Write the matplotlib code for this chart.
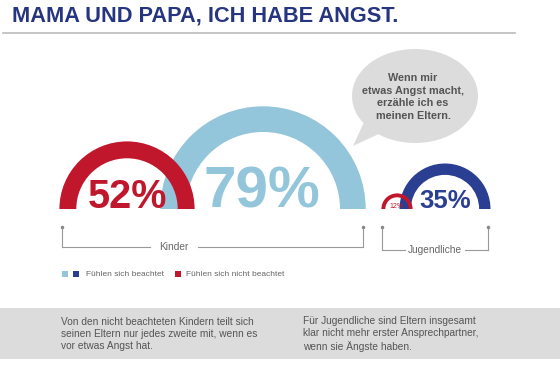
import matplotlib.pyplot as plt
from matplotlib.patches import Wedge, Ellipse, Polygon, Rectangle

plt.rcParams['font.family'] = ['Liberation Sans', 'DejaVu Sans']

# data
groups = ["Kinder", "Jugendliche"]
beachtet = [79, 35]
nicht_beachtet = [52, 12]
title = "MAMA UND PAPA, ICH HABE ANGST."
bubble_text = "Wenn mir\netwas Angst macht,\nerzähle ich es\nmeinen Eltern."
legend_labels = ["Fühlen sich beachtet", "Fühlen sich nicht beachtet"]
notes = ["Von den nicht beachteten Kindern teilt sich\nseinen Eltern nur jedes zweite mit, wenn es\nvor etwas Angst hat.",
         "Für Jugendliche sind Eltern insgesamt\nklar nicht mehr erster Ansprechpartner,\nwenn sie Ängste haben."]

RED = '#c1172c'
LIGHT = '#93c6da'
DARK = '#2a3f92'
TITLE = '#26357f'
GREY = '#666666'

scale = 1.3       # px radius per percent
base = 209        # baseline of the arcs
NUMFONT = dict(fontweight='bold')

fig = plt.figure(figsize=(5.6, 3.73), dpi=100)
ax = fig.add_axes([0, 0, 1, 1])
ax.set_xlim(0, 560)
ax.set_ylim(373, 0)
ax.axis('off')


def arc(cx, value, color, z):
    r = value * scale
    ax.add_patch(Wedge((cx, base), r, 180, 360, width=r * 0.25, color=color, zorder=z, lw=0))


# title
ax.text(12, 16, title, fontsize=15.7, fontweight='bold', color=TITLE, va='center', ha='left')
ax.plot([3, 515], [33, 33], color='#bbbbbb', lw=1.2)

# Kinder arcs
arc(263, beachtet[0], LIGHT, 2)
arc(127, nicht_beachtet[0], RED, 3)
ax.text(127, base - 1, f"{nicht_beachtet[0]}%", fontsize=28.5, color=RED, ha='center', va='baseline', zorder=4, **NUMFONT)
ax.text(262, base - 1, f"{beachtet[0]}%", fontsize=42, color=LIGHT, ha='center', va='baseline', zorder=4, **NUMFONT)

# Jugendliche arcs
arc(445, beachtet[1], DARK, 2)
arc(397, nicht_beachtet[1], RED, 3)
ax.text(445, base - 1, f"{beachtet[1]}%", fontsize=18.5, color=DARK, ha='center', va='baseline', zorder=4, **NUMFONT)
ax.text(397, base - 1, f"{nicht_beachtet[1]}%", fontsize=5, color=RED, ha='center', va='baseline', zorder=4)

# speech bubble
ax.add_patch(Polygon([(365, 120), (383, 132), (353, 146)], closed=True, color='#dcdcdc', lw=0, zorder=1))
ax.add_patch(Ellipse((415, 96), 126, 94, color='#dcdcdc', lw=0, zorder=1))
ax.text(413, 97, bubble_text, fontsize=7.8, fontweight='bold', color='#555555',
        ha='center', va='center', linespacing=1.35, zorder=2)


# brackets
def bracket(x0, x1, top, bottom, label, lx, gap):
    kw = dict(color='#999999', lw=0.8)
    ax.plot([x0, x0], [top, bottom], **kw)
    ax.plot([x1, x1], [top, bottom], **kw)
    ax.plot([x0, lx - gap], [bottom, bottom], **kw)
    ax.plot([lx + gap, x1], [bottom, bottom], **kw)
    ax.plot([x0, x1], [top, top], 'o', ms=1.5, color='#888888')
    ax.text(lx, bottom, label, fontsize=7.3, color=GREY, ha='center', va='center')


bracket(62, 363, 227, 247, groups[0], 174, 24)
bracket(382, 488, 227, 250, groups[1], 435, 30)

# legend
ax.add_patch(Rectangle((62, 271), 6, 6, color=LIGHT, lw=0))
ax.add_patch(Rectangle((73, 271), 6, 6, color=DARK, lw=0))
ax.text(86, 274.5, legend_labels[0], fontsize=6, color=GREY, va='center')
ax.add_patch(Rectangle((175, 271), 6, 6, color=RED, lw=0))
ax.text(186, 274.5, legend_labels[1], fontsize=6, color=GREY, va='center')

# bottom band
ax.add_patch(Rectangle((0, 308), 560, 51, color='#dcdcdc', lw=0))
ax.text(61, 334, notes[0], fontsize=7.3, color='#555555', va='center', linespacing=1.3)
ax.text(303, 334, notes[1], fontsize=7.3, color='#555555', va='center', linespacing=1.3)

fig.savefig('out.png', dpi=100)
